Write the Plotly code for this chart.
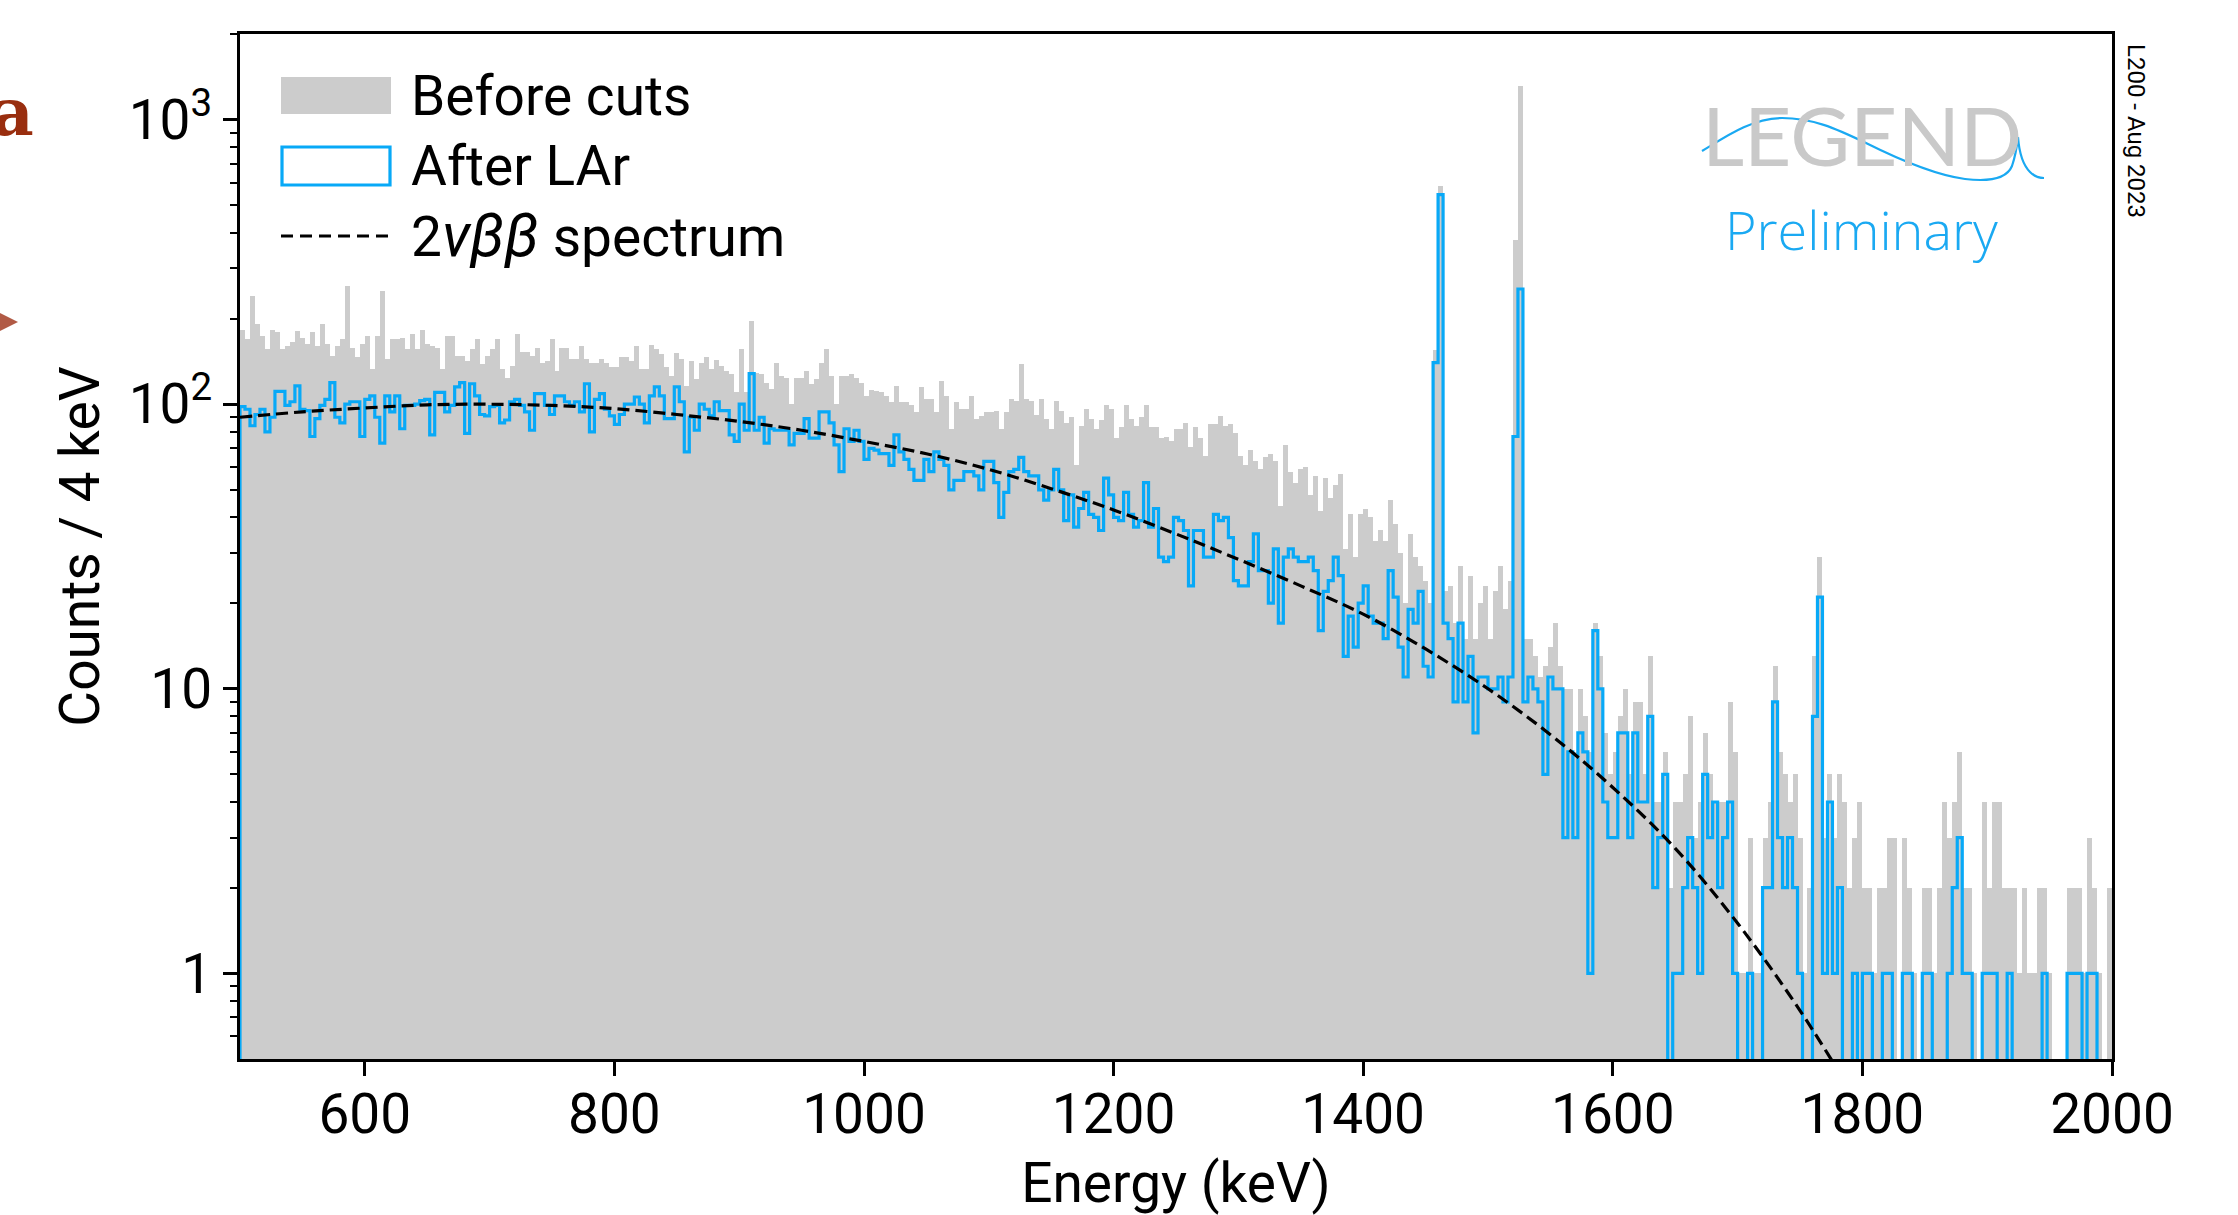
import numpy as np
import plotly.graph_objects as go

# ---------------- data ----------------
bin_width_kev = 4
energy_min, energy_max = 500, 2000

before_cuts = [
    183,169,240,191,174,156,183,179,156,160,
    165,181,171,163,179,160,191,163,148,160,
    169,260,158,146,163,174,133,174,250,144,
    169,169,171,156,176,156,183,163,160,158,
    133,174,174,148,148,142,156,169,138,148,
    156,169,133,124,136,176,152,152,148,158,
    140,142,169,131,158,158,144,144,160,144,
    140,140,144,140,135,135,
    147,146,142,160,133,133,161,156,150,135,
    126,151,144,116,142,123,140,146,133,143,
    136,131,128,110,156,110,196,129,128,119,
    113,140,126,124,100,124,124,131,118,123,
    140,156,126,100,126,126,128,124,119,107,
    112,111,110,107,102,116,102,102,99,94,
    115,104,104,94,121,107,82,102,96,96,
    107,89,91,94,
    94,95,82,94,104,103,138,104,103,92,
    104,89,82,103,95,86,90,61,84,96,
    89,82,88,99,96,76,83,99,89,84,
    90,99,83,83,76,77,74,82,82,86,
    71,83,76,66,85,85,91,84,85,79,
    66,61,69,63,59,65,67,63,44,72,
    58,53,59,60,48,56,42,55,47,52,
    57,31,41,29,41,
    43,40,33,36,33,46,38,30,20,35,
    29,27,24,20,155,587,22,23,17,27,
    15,25,15,20,23,15,22,27,19,24,
    377,1318,15,15,13,11,12,14,17,12,
    10,10,6,10,8,6,17,13,7,
    5,6,8,10,5,9,9,5,13,4,
    4,6,2,4,4,5,8,3,4,7,
    5,4,4,4,9,6,1,1,3,1,
    1,3,4,12,6,5,4,5,3,1,
    2,13,29,3,5,3,5,4,2,3,
    4,2,2,1,2,2,3,3,0,3,
    2,1,0,2,2,1,2,4,3,4,
    6,2,2,1,0,4,2,4,4,2,
    2,2,1,2,1,1,2,2,1,0,
    0,0,2,2,2,1,3,2,1,0,
    2,
]

after_lar = [
    98,96,84,92,96,80,90,111,111,99,
    102,116,96,95,77,89,99,104,119,90,
    86,100,102,102,77,104,107,90,73,107,
    94,107,82,99,99,100,103,104,78,110,
    110,94,99,115,119,79,118,107,92,91,
    98,99,86,88,102,104,99,94,81,109,
    109,99,92,107,107,102,99,102,94,118,
    80,104,109,96,91,85,
    92,100,100,106,100,86,107,115,107,89,
    89,115,102,68,90,81,100,96,91,102,
    95,95,78,74,100,81,128,81,90,73,
    82,81,81,81,72,79,79,89,76,76,
    94,94,86,72,58,82,74,81,74,64,
    70,69,67,67,61,78,68,64,59,54,
    54,64,58,68,64,61,50,54,54,58,
    58,56,50,63,
    63,53,40,49,58,59,65,58,56,56,
    50,46,50,59,50,39,48,37,43,49,
    41,40,36,55,48,40,39,49,41,37,
    39,53,37,43,29,28,29,40,39,36,
    23,36,36,29,29,41,39,40,34,24,
    23,23,28,35,26,26,20,31,17,29,
    31,29,28,28,29,26,16,22,24,29,
    25,13,18,14,20,
    23,18,17,17,15,26,21,14,11,19,
    17,22,12,11,140,545,17,15,9,17,
    9,13,7,11,11,10,10,11,9,11,
    77,254,9,11,10,9,5,11,10,10,
    3,6,3,7,6,1,16,10,4,
    3,3,7,7,3,7,4,4,8,2,
    3,5,0,1,1,2,3,2,1,5,
    3,4,2,3,4,1,0,0,1,0,
    0,2,2,9,3,2,3,2,1,0,
    0,8,21,1,4,1,2,0,0,1,
    0,1,1,0,0,1,1,0,0,1,
    1,0,0,1,1,0,0,0,1,2,
    3,1,1,0,0,1,1,1,0,0,
    1,0,0,0,0,0,0,1,0,0,
    0,0,1,1,1,0,1,1,0,0,
    0,
]

# 2nu-beta-beta expectation (counts / 4 keV)
spec_energy = [500, 550, 600, 650, 700, 750, 800, 850, 900, 950, 1000, 1050,
               1100, 1150, 1200, 1250, 1300, 1350, 1400, 1450, 1500, 1550,
               1600, 1650, 1700, 1750, 1800]
spec_counts = [90, 94, 97, 99.5, 100, 99, 96.5, 92, 87, 81, 74, 67,
               59, 50.5, 42.5, 35, 28.5, 23, 18.3, 13.8, 10, 6.9,
               4.5, 2.75, 1.5, 0.74, 0.33]

x_ticks = [600, 800, 1000, 1200, 1400, 1600, 1800, 2000]
y_tick_vals = [1, 10, 100, 1000]
y_tick_text = ["1", "10", "10<sup>2</sup>", "10<sup>3</sup>"]

# ---------------- figure ----------------
W, H = 2238, 1215
ML, MR, MT, MB = 240, 126, 34, 156
PW, PH = W - ML - MR, H - MT - MB

def px(x):
    return (x - ML) / PW

def py(y):
    return (H - MB - y) / PH

GRAY = "#cccccc"
BLUE = "#08a9f7"
FONT = "Roboto"

edges = np.arange(energy_min, energy_max + bin_width_kev, bin_width_kev)
centers = edges[:-1] + bin_width_kev / 2
assert len(before_cuts) == len(centers) and len(after_lar) == len(centers)

fig = go.Figure()

fig.add_trace(go.Bar(
    x=centers, y=[v if v > 0 else None for v in before_cuts], width=bin_width_kev,
    marker=dict(color=GRAY, line=dict(width=0)), showlegend=False,
))

floor = 0.01  # below the visible range: step drops to the axis
step_x = [edges[0]] + list(edges[:-1]) + [edges[-1], edges[-1]]
step_y = [floor] + [v if v > 0 else floor for v in after_lar] + [after_lar[-1] if after_lar[-1] > 0 else floor, floor]
fig.add_trace(go.Scatter(
    x=step_x, y=step_y, mode="lines", line=dict(color=BLUE, width=3.2, shape="hv"),
    showlegend=False,
))

fig.add_trace(go.Scatter(
    x=spec_energy, y=spec_counts, mode="lines",
    line=dict(color="black", width=3.2, dash="12px,6px", shape="spline"),
    showlegend=False,
))

minor_vals = [0.6, 0.7, 0.8, 0.9] + [m * d for d in (1, 10, 100) for m in range(2, 10)] + [2000]

fig.update_layout(
    width=W, height=H,
    margin=dict(l=ML, r=MR, t=MT, b=MB, autoexpand=False),
    paper_bgcolor="white", plot_bgcolor="white",
    bargap=0,
    font=dict(family=FONT, size=55, color="black"),
    xaxis=dict(
        range=[energy_min, energy_max], tickvals=x_ticks, ticks="outside",
        ticklen=14, tickwidth=2.5, tickcolor="black", ticklabelstandoff=-9,
        showline=True, linecolor="black", linewidth=2.8, mirror=True,
        showgrid=False, zeroline=False,
        tickfont=dict(family=FONT, size=55, color="black"),
        title=dict(text="Energy (keV)", font=dict(family=FONT, size=55), standoff=30),
    ),
    yaxis=dict(
        type="log", range=[np.log10(0.5), np.log10(2000)],
        tickmode="array", tickvals=y_tick_vals, ticktext=y_tick_text,
        ticks="outside", ticklen=14, tickwidth=2.5, tickcolor="black",
        minor=dict(tickmode="array", tickvals=minor_vals, ticks="outside",
                   ticklen=7, tickwidth=2, tickcolor="black", showgrid=False),
        showline=True, linecolor="black", linewidth=2.8, mirror=True,
        showgrid=False, zeroline=False,
        tickfont=dict(family=FONT, size=55, color="black"),
        title=dict(text="Counts / 4 keV", font=dict(family=FONT, size=55), standoff=12),
    ),
)

shapes = []
annotations = []

# manual legend
shapes.append(dict(type="rect", xref="paper", yref="paper",
                   x0=px(281), x1=px(391), y0=py(114), y1=py(77),
                   fillcolor=GRAY, line=dict(width=0)))
shapes.append(dict(type="rect", xref="paper", yref="paper",
                   x0=px(282), x1=px(390), y0=py(185), y1=py(147),
                   fillcolor="rgba(0,0,0,0)", line=dict(color=BLUE, width=3.2)))
shapes.append(dict(type="line", xref="paper", yref="paper",
                   x0=px(281), x1=px(391), y0=py(236), y1=py(236),
                   line=dict(color="black", width=3.2, dash="12px,7px")))
legend_texts = ["Before cuts", "After LAr",
                "2<i><span style='font-size:60px'>νββ</span></i> spectrum"]
for txt, yy in zip(legend_texts, [96, 166, 236]):
    annotations.append(dict(xref="paper", yref="paper", x=px(409), y=py(yy),
                            xanchor="left", yanchor="middle", text=txt, showarrow=False,
                            font=dict(family=FONT, size=55, color="black")))

# LEGEND logo
annotations.append(dict(xref="paper", yref="paper", x=px(1862), y=py(134),
                        xanchor="center", yanchor="middle", text="LEGEND", showarrow=False,
                        font=dict(family="Lato", size=82, color="#c9c9c9", weight=400)))
annotations.append(dict(xref="paper", yref="paper", x=px(1861), y=py(229),
                        xanchor="center", yanchor="middle", text="Preliminary", showarrow=False,
                        font=dict(family="Open Sans", size=54, color="#1aa9f2", weight=300)))

def P(x, y):
    return f"{px(x):.5f},{py(y):.5f}"

wave = ("M " + P(1702, 151) +
        " C " + P(1725, 137) + " " + P(1752, 118) + " " + P(1782, 118) +
        " C " + P(1812, 118) + " " + P(1835, 128) + " " + P(1866, 143) +
        " C " + P(1900, 160) + " " + P(1935, 175) + " " + P(1965, 179) +
        " C " + P(1990, 182) + " " + P(2007, 178) + " " + P(2012, 166) +
        " C " + P(2015, 157) + " " + P(2017, 146) + " " + P(2018, 137) +
        " C " + P(2019, 150) + " " + P(2022, 164) + " " + P(2030, 172) +
        " C " + P(2035, 177) + " " + P(2040, 178) + " " + P(2044, 178))
shapes.append(dict(type="path", xref="paper", yref="paper", path=wave,
                   line=dict(color="#1aa9f2", width=2.2)))

# side stamp
annotations.append(dict(xref="paper", yref="paper", x=px(2136), y=py(131),
                        xanchor="center", yanchor="middle", text="L200 - Aug 2023",
                        textangle=90, showarrow=False,
                        font=dict(family=FONT, size=24, color="black")))

# slide remnants at the left edge
annotations.append(dict(xref="paper", yref="paper", x=px(12), y=py(112),
                        xanchor="center", yanchor="middle", text="<b>a</b>", showarrow=False,
                        font=dict(family="DejaVu Serif", size=66, color="#992e0f")))
tri = "M " + P(-2, 312) + " L " + P(18, 322) + " L " + P(-2, 332) + " Z"
shapes.append(dict(type="path", xref="paper", yref="paper", path=tri,
                   fillcolor="#b15a45", line=dict(width=0)))

fig.update_layout(shapes=shapes, annotations=annotations)

fig.write_html("out.html")
